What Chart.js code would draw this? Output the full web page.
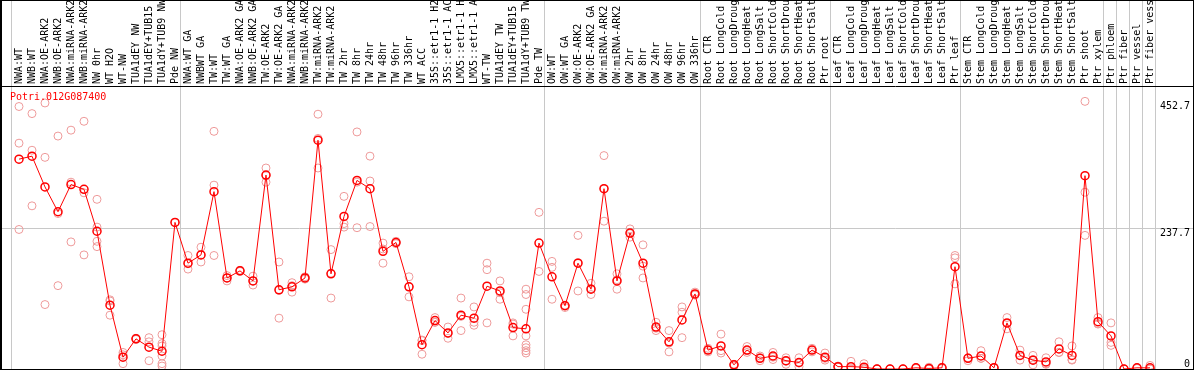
<!DOCTYPE html>
<html>
<head>
<meta charset="utf-8">
<script src="https://cdn.jsdelivr.net/npm/chart.js"></script>
<style>
  body { margin: 0; background: #fff; }
  canvas { display: block; }
</style>
</head>
<body>
<canvas id="exprChart" width="1194" height="370"></canvas>
<script>
// Sample names, left to right
const categories = [
    'NWA:WT', 'NWB:WT', 'NWA:OE-ARK2', 'NWB:OE-ARK2', 'NWA:miRNA-ARK2', 'NWB:miRNA-ARK2',
    'NW 0hr', 'WT H2O', 'WT-NW', 'TUA1dEY NW', 'TUA1dEY+TUB15 NW', 'TUA1dY+TUB9 NW', 'Pde NW',
    'NWA:WT GA', 'NWBWT GA', 'TW:WT', 'TW:WT GA', 'NWA:OE-ARK2 GA', 'NWB:OE-ARK2 GA',
    'TW:OE-ARK2', 'TW:OE-ARK2 GA', 'NWA:miRNA-ARK2 GA', 'NWB:miRNA-ARK2 GA', 'TW:miRNA-ARK2',
    'TW:miRNA-ARK2 GA', 'TW 2hr', 'TW 8hr', 'TW 24hr', 'TW 48hr', 'TW 96hr', 'TW 336hr', 'WT ACC',
    '35S::etr1-1 H2O', '35S::etr1-1 ACC', 'LMX5::etr1-1 H2O', 'LMX5::etr1-1 ACC', 'WT-TW',
    'TUA1dEY TW', 'TUA1dEY+TUB15 TW', 'TUA1dY+TUB9 TW', 'Pde TW',
    'OW:WT', 'OW:WT GA', 'OW:OE-ARK2', 'OW:OE-ARK2 GA', 'OW:miRNA-ARK2', 'OW:miRNA-ARK2 GA',
    'OW 2hr', 'OW 8hr', 'OW 24hr', 'OW 48hr', 'OW 96hr', 'OW 336hr',
    'Root CTR', 'Root LongCold', 'Root LongDrought', 'Root LongHeat', 'Root LongSalt',
    'Root ShortCold', 'Root ShortDrought', 'Root ShortHeat', 'Root ShortSalt', 'Ptr root',
    'Leaf CTR', 'Leaf LongCold', 'Leaf LongDrought', 'Leaf LongHeat', 'Leaf LongSalt',
    'Leaf ShortCold', 'Leaf ShortDrought', 'Leaf ShortHeat', 'Leaf ShortSalt', 'Ptr leaf',
    'Stem CTR', 'Stem LongCold', 'Stem LongDrought', 'Stem LongHeat', 'Stem LongSalt',
    'Stem ShortCold', 'Stem ShortDrought', 'Stem ShortHeat', 'Stem ShortSalt', 'Ptr shoot',
    'Ptr xylem', 'Ptr phloem', 'Ptr fiber', 'Ptr vessel', 'Ptr fiber vessel'
];

// Mean expression per sample (red line)
const meanValues = [
    355, 360, 308, 266, 312, 304, 233, 108, 20, 51, 37, 30, 248,
    179, 193, 300, 154, 166, 149, 328, 134, 139, 154, 387, 161, 258, 319, 305, 199, 214, 139,
    41, 82, 61, 91, 86, 140, 132, 70, 68, 213,
    156, 107, 179, 135, 305, 149, 230, 179, 71, 46, 83, 127,
    32, 39, 7, 32, 18, 22, 14, 11, 32, 20,
    4, 4, 3, 0, 0, 0, 2, 1, 2, 173,
    18, 22, 2, 78, 23, 15, 12, 34, 23, 327,
    80, 56, 0, 2, 2
];

// Individual replicates per sample (pink circles)
const replicateValues = [
    [444, 382, 236], [432, 370, 276], [450, 358, 109], [394, 263, 141], [404, 316, 215],
    [419, 298, 193], [287, 240, 216, 207], [117, 115, 91], [28, 24, 9], [52, 51, 50],
    [53, 46, 14], [58, 43, 39, 22, 9, 5], [248],
    [192, 178, 169], [206, 193, 181], [402, 311, 192], [158, 154, 149], [167, 166, 165],
    [157, 149, 142], [340, 327, 316], [181, 133, 86], [146, 141, 130], [156, 154, 152],
    [431, 390, 340], [202, 162, 120], [292, 246, 240], [401, 316, 239], [360, 318, 241],
    [213, 203, 179], [216, 214, 212], [156, 139, 122], [49, 48, 25], [87, 79, 79],
    [71, 60, 52], [120, 89, 65], [105, 79, 74], [179, 168, 78], [149, 129, 118],
    [78, 76, 56], [135, 126, 101, 56, 41, 36, 31, 27], [265, 165],
    [182, 172, 118], [108, 107, 104], [226, 180, 132], [145, 136, 126], [361, 305, 250],
    [161, 151, 135], [237, 229, 223], [210, 174, 154], [79, 69, 65], [65, 44, 29],
    [105, 96, 53], [130, 127, 125],
    [35, 32, 29], [59, 31, 27], [8, 7, 5], [38, 31, 28], [22, 19, 14],
    [28, 20, 16], [19, 13, 8], [19, 10, 4], [35, 32, 29], [27, 18, 15],
    [5, 4, 3], [13, 0, 0], [9, 1, 0], [0.5, 0, 0], [0, 0, 0],
    [0, 0, 0], [2, 2, 1], [3, 0, 0], [3, 2, 1], [192, 188, 144],
    [19, 18, 14], [31, 18, 18], [3, 2, 2], [87, 77, 68], [32, 23, 15],
    [23, 16, 7], [19, 9, 8], [46, 28, 28], [39, 16, 15], [452.7, 299, 226],
    [87, 77, 76], [78, 45, 40], [0, 0, 0], [2, 2, 1], [6, 0, 0]
];

// Last sample index (1-based) of each group, used for the separator lines
const groupEnds = [0, 13, 41, 53, 63, 73, 84, 85, 86, 87, 88];

const yTicks = [0, 237.7, 452.7];
const geneName = 'Potri.012G087400';

const MONO = "'DejaVu Sans Mono', monospace";
const X_MIN = -0.3077;
const X_MAX = 91.308;

// 1. Build point lists from the arrays
const meanPoints = meanValues.map((v, i) => ({ x: i + 1, y: v }));
const repPoints = [];
replicateValues.forEach((reps, i) => {
    reps.forEach(v => repPoints.push({ x: i + 1, y: v }));
});

// scales should not ask the layout for extra room around their labels
function noPadding(scale) {
    scale.paddingTop = 0;
    scale.paddingBottom = 0;
    scale.paddingLeft = 0;
    scale.paddingRight = 0;
}

// 2. Frame + gene name
const framePlugin = {
    id: 'frame',
    afterDraw(chart) {
        const { ctx, chartArea } = chart;
        ctx.save();
        ctx.strokeStyle = '#000';
        ctx.lineWidth = 1;
        ctx.strokeRect(0.5, 0.5, chart.width - 1, chart.height - 1);
        ctx.beginPath();
        ctx.moveTo(0, Math.round(chartArea.top) - 0.5);
        ctx.lineTo(chart.width, Math.round(chartArea.top) - 0.5);
        ctx.moveTo(1.5, 0);
        ctx.lineTo(1.5, chart.height);
        ctx.stroke();

        ctx.fillStyle = '#ff0000';
        ctx.font = '10px ' + MONO;
        ctx.textBaseline = 'middle';
        ctx.textAlign = 'left';
        ctx.fillText(geneName, chartArea.left + 8, chartArea.top + 10);
        ctx.restore();
    }
};

new Chart(document.getElementById('exprChart'), {
    type: 'line',
    data: {
        datasets: [{
            label: 'mean',
            data: meanPoints,
            borderColor: '#ff0000',
            borderWidth: 1,
            pointRadius: 4,
            pointBorderWidth: 1.5,
            pointBorderColor: '#ff0000',
            pointBackgroundColor: 'rgba(0,0,0,0)',
            tension: 0,
            clip: false,
            order: 0
        }, {
            label: 'replicates',
            data: repPoints,
            showLine: false,
            pointRadius: 4,
            pointBorderWidth: 1,
            pointBorderColor: '#ee9a9a',
            pointBackgroundColor: 'rgba(0,0,0,0)',
            clip: false,
            order: 1
        }]
    },
    options: {
        responsive: false,
        animation: false,
        layout: { autoPadding: false, padding: { left: 2, right: 1, top: 0, bottom: 1 } },
        plugins: {
            legend: { display: false },
            tooltip: { enabled: false }
        },
        scales: {
            x: {
                type: 'linear',
                position: 'top',
                weight: 1,
                min: X_MIN,
                max: X_MAX,
                afterBuildTicks: scale => {
                    scale.ticks = categories.map((c, i) => ({ value: i + 1 }));
                },
                afterFit: scale => { scale.height = 87; noPadding(scale); },
                grid: { display: false, drawTicks: false },
                border: { display: false },
                ticks: {
                    autoSkip: false,
                    minRotation: 90,
                    maxRotation: 90,
                    padding: 3,
                    labelOffset: 12,
                    color: '#000',
                    font: { family: MONO, size: 10 },
                    callback: v => categories[v - 1]
                }
            },
            groups: {
                type: 'linear',
                position: 'top',
                weight: 0,
                min: X_MIN,
                max: X_MAX,
                afterBuildTicks: scale => {
                    scale.ticks = groupEnds.map(g => ({ value: g + 0.4 }));
                },
                afterFit: scale => { scale.height = 0; noPadding(scale); },
                grid: { color: '#c8c8c8', lineWidth: 1, drawTicks: true, tickLength: 87 },
                border: { display: false },
                ticks: { display: false }
            },
            y: {
                type: 'linear',
                position: 'right',
                min: 0,
                max: 477,
                afterBuildTicks: scale => {
                    scale.ticks = yTicks.map(v => ({ value: v }));
                },
                afterFit: scale => { scale.width = 0; noPadding(scale); },
                grid: {
                    drawTicks: false,
                    color: ctx => (ctx.tick && ctx.tick.value === 237.7) ? '#c8c8c8' : 'rgba(0,0,0,0)'
                },
                border: { display: false },
                ticks: {
                    mirror: true,
                    padding: -3,
                    color: '#000',
                    font: { family: MONO, size: 10, lineHeight: 1 },
                    callback: v => v === 0 ? ['0', ''] : ['', String(v)]
                }
            }
        }
    },
    plugins: [framePlugin]
});
</script>
</body>
</html>
